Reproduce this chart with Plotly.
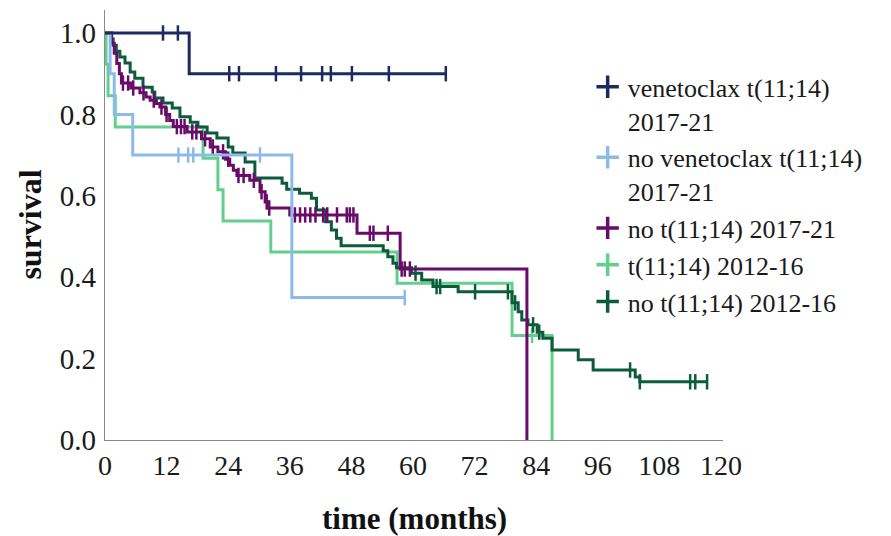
import plotly.graph_objects as go

# ---------------- data ----------------
series_names = [
    "venetoclax t(11;14)<br>2017-21",
    "no venetoclax t(11;14)<br>2017-21",
    "no t(11;14) 2017-21",
    "t(11;14) 2012-16",
    "no t(11;14) 2012-16",
]
series_colors = ["#1c2b5e", "#8dbbe8", "#680b69", "#62cf8d", "#0c5b3a"]

x_ticks = [0, 12, 24, 36, 48, 60, 72, 84, 96, 108, 120]
y_ticks = [0.0, 0.2, 0.4, 0.6, 0.8, 1.0]
y_tick_text = ["0.0", "0.2", "0.4", "0.6", "0.8", "1.0"]

# venetoclax t(11;14) 2017-21
ven_event_t = [16.4]
ven_event_s = [0.90]
ven_end = 66.4
ven_censor_t = [11.3, 14.2, 24.2, 26.1, 33.3, 38.2, 42.3, 44.0, 48.1, 55.3, 66.4]

# no venetoclax t(11;14) 2017-21
nov_event_t = [1.0, 1.8, 5.4, 36.4]
nov_event_s = [0.90, 0.80, 0.70, 0.35]
nov_end = 58.4
nov_censor_t = [14.3, 16.2, 17.2, 30.2, 58.4]

# no t(11;14) 2017-21
p_event_t = [1.3, 1.8, 2.3, 2.8, 3.2, 5.0, 6.8, 8.0, 8.8, 10.0, 10.7, 11.8, 12.6,
             13.3, 16.0, 18.8, 20.5, 22.0, 23.5, 24.3, 25.0, 25.7, 28.2, 30.2,
             31.2, 31.8, 36.0, 49.1, 57.5, 82.2]
p_event_s = [0.975, 0.95, 0.925, 0.90, 0.877, 0.865, 0.853, 0.843, 0.835, 0.827,
             0.818, 0.80, 0.785, 0.77, 0.757, 0.74, 0.72, 0.708, 0.69, 0.675,
             0.663, 0.65, 0.638, 0.61, 0.585, 0.57, 0.553, 0.508, 0.42, 0.0]
p_end = 82.2
p_censor_t = [3.5, 4.5, 5.5, 7.5, 9.5, 11.0, 12.0, 14.0, 14.8, 15.5, 17.0, 17.8,
              19.5, 21.0, 23.0, 24.0, 26.0, 27.0, 29.0, 30.5, 31.5, 32.0,
              37.0, 38.0, 39.0, 40.0, 41.0, 42.5, 43.3, 45.2, 47.1, 47.7, 48.4,
              51.6, 52.3, 55.1, 57.8, 58.4, 59.4]

# t(11;14) 2012-16
g_event_t = [0.2, 0.6, 2.0, 19.1, 22.0, 23.0, 32.3, 56.9, 79.3, 87.1]
g_event_s = [0.923, 0.846, 0.769, 0.692, 0.615, 0.538, 0.462, 0.385, 0.257, 0.0]
g_end = 87.1
g_censor_t = [83.2]

# no t(11;14) 2012-16
d_event_t = [1.2, 1.6, 2.2, 2.9, 3.9, 4.9, 5.8, 7.4, 9.2, 9.7, 11.3, 13.1, 14.6,
             16.6, 18.1, 19.9, 21.8, 24.0, 24.9, 27.3, 29.2, 34.5, 35.4, 37.9,
             40.2, 41.2, 43.0, 44.1, 45.1, 46.0, 54.2, 55.1, 56.1, 56.8, 59.7,
             61.7, 63.9, 68.8, 79.3, 80.5, 81.2, 82.4, 84.2, 85.3, 87.1, 92.2,
             95.1, 103.3, 104.2]
d_event_s = [0.985, 0.97, 0.955, 0.941, 0.926, 0.904, 0.889, 0.867, 0.855, 0.84,
             0.828, 0.816, 0.794, 0.781, 0.769, 0.754, 0.742, 0.72, 0.705, 0.683,
             0.644, 0.631, 0.616, 0.606, 0.594, 0.565, 0.536, 0.516, 0.496, 0.477,
             0.465, 0.45, 0.434, 0.423, 0.41, 0.393, 0.377, 0.364, 0.337, 0.315,
             0.295, 0.283, 0.265, 0.25, 0.221, 0.197, 0.172, 0.155, 0.143]
d_end = 117.3
d_censor_t = [60.5, 64.6, 65.3, 72.1, 78.5, 79.9, 83.4, 84.6, 102.3, 104.2,
              114.0, 115.0, 117.3]

# ---------------- helpers ----------------
def step_xy(event_t, event_s, end):
    x = [0.0] + list(event_t)
    y = [1.0] + list(event_s)
    if end > x[-1]:
        x.append(end)
        y.append(y[-1])
    return x, y


def surv_at(t, event_t, event_s):
    s = 1.0
    for et, es in zip(event_t, event_s):
        if et <= t:
            s = es
    return s


curves = [
    (ven_event_t, ven_event_s, ven_end, ven_censor_t),
    (nov_event_t, nov_event_s, nov_end, nov_censor_t),
    (p_event_t, p_event_s, p_end, p_censor_t),
    (g_event_t, g_event_s, g_end, g_censor_t),
    (d_event_t, d_event_s, d_end, d_censor_t),
]

FONT = "Liberation Serif"
fig = go.Figure()

draw_order = [3, 4, 2, 1, 0]
for i in draw_order:
    et, es, end, ct = curves[i]
    x, y = step_xy(et, es, end)
    fig.add_trace(go.Scatter(
        x=x, y=y, mode="lines", line=dict(color=series_colors[i], width=3, shape="hv"),
        showlegend=False, hoverinfo="skip"))
    fig.add_trace(go.Scatter(
        x=ct, y=[surv_at(t, et, es) for t in ct], mode="markers",
        marker=dict(symbol="line-ns-open", size=11, color=series_colors[i],
                    line=dict(color=series_colors[i], width=2.5)),
        showlegend=False, hoverinfo="skip"))

for i in range(5):
    fig.add_trace(go.Scatter(
        x=[None], y=[None], mode="markers", name=series_names[i],
        marker=dict(symbol="cross-thin-open", size=22, color=series_colors[i],
                    line=dict(color=series_colors[i], width=3.5))))

# the page body adds an 8px offset: figure is 8px smaller, left/top margins reduced
fig.update_layout(
    width=883, height=528,
    margin=dict(l=97, r=168, t=2, b=96),
    plot_bgcolor="white", paper_bgcolor="white",
    font=dict(family=FONT, size=28, color="#1a1a1a"),
    xaxis=dict(range=[0, 120.4], tickmode="array", tickvals=x_ticks,
               showgrid=False, zeroline=False, showline=True,
               linecolor="#8a8a8a", linewidth=1.2, ticks="",
               tickfont=dict(family=FONT, size=28, color="#1a1a1a")),
    yaxis=dict(range=[0, 1.0565], tickmode="array", tickvals=y_ticks,
               ticktext=y_tick_text, showgrid=False, zeroline=False,
               showline=True, linecolor="#8a8a8a", linewidth=1.2, ticks="",
               ticklabelstandoff=2,
               tickfont=dict(family=FONT, size=29, color="#1a1a1a")),
    legend=dict(x=0.781, y=0.876, xanchor="left", yanchor="top",
                bgcolor="rgba(0,0,0,0)", valign="top",
                font=dict(family=FONT, size=26, color="#1a1a1a"),
                tracegroupgap=0, itemwidth=30),
    annotations=[
        dict(text="<b>time (months)</b>", x=0.5, y=-0.183, xref="paper", yref="paper",
             xanchor="center", yanchor="middle", showarrow=False,
             font=dict(family=FONT, size=31, color="#111")),
        dict(text="<b>survival</b>", x=-0.122, y=0.5, xref="paper", yref="paper",
             xanchor="center", yanchor="middle", showarrow=False, textangle=-90,
             font=dict(family=FONT, size=32, color="#111")),
    ],
)

fig.write_html("out.html")
